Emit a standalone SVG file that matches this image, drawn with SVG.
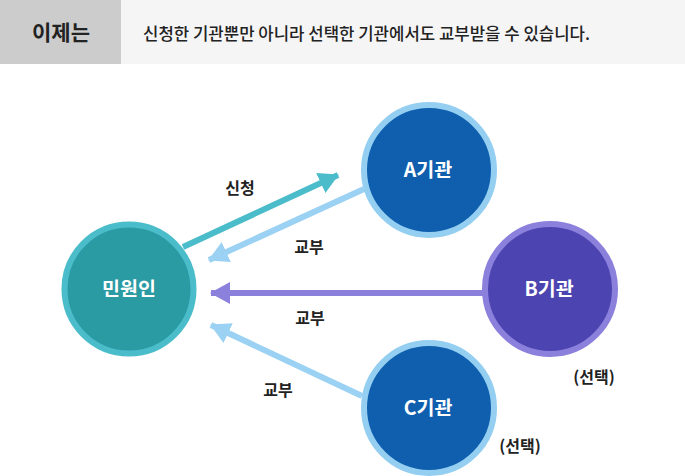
<svg xmlns="http://www.w3.org/2000/svg" width="685" height="476" viewBox="0 0 685 476">
<style>
text{font-family:"Noto Sans CJK KR","Noto Sans",sans-serif;}
.lbl{font-size:16px;font-weight:bold;fill:#222;text-anchor:middle;}
.node{font-size:19.5px;font-weight:bold;fill:#fff;text-anchor:middle;}
.line{stroke-width:6;fill:none;}
</style>
<defs>
<marker id="mTeal" markerUnits="userSpaceOnUse" viewBox="0 0 20 22" refX="19" refY="11" markerWidth="20" markerHeight="22" orient="auto"><path d="M0,0 L20,11 L0,22 Z" fill="#4bbcca"/></marker>
<marker id="mSky" markerUnits="userSpaceOnUse" viewBox="0 0 20 22" refX="19" refY="11" markerWidth="20" markerHeight="22" orient="auto"><path d="M0,0 L20,11 L0,22 Z" fill="#9bd1f3"/></marker>
<marker id="mPurple" markerUnits="userSpaceOnUse" viewBox="0 0 20 22" refX="19" refY="11" markerWidth="20" markerHeight="22" orient="auto"><path d="M0,0 L20,11 L0,22 Z" fill="#8b80dc"/></marker>
</defs>
<rect width="685" height="476" fill="#fff"/>
<g id="header">
<rect x="0" y="0" width="685" height="64" fill="#f5f5f5"/>
<rect x="0" y="0" width="121" height="64" fill="#cccccc"/>
<text x="61" y="40" style="font-size:21px;font-weight:bold;fill:#222;text-anchor:middle">이제는</text>
<text x="143" y="40" textLength="447" lengthAdjust="spacingAndGlyphs" style="font-size:16.5px;font-weight:500;fill:#222">신청한 기관뿐만 아니라 선택한 기관에서도 교부받을 수 있습니다.</text>
</g>
<g id="connectors">
<line class="line" x1="183" y1="247" x2="338" y2="175" stroke="#4bbcca" marker-end="url(#mTeal)"/>
<line class="line" x1="364" y1="189" x2="209" y2="260" stroke="#9bd1f3" marker-end="url(#mSky)"/>
<line class="line" x1="484" y1="293" x2="211" y2="293" stroke="#8b80dc" marker-end="url(#mPurple)"/>
<line class="line" x1="362" y1="396" x2="211" y2="325" stroke="#9bd1f3" marker-end="url(#mSky)"/>
<text class="lbl" x="240" y="194">신청</text>
<text class="lbl" x="309" y="253">교부</text>
<text class="lbl" x="310" y="324">교부</text>
<text class="lbl" x="278" y="396">교부</text>
</g>
<g id="minwon">
<circle cx="129" cy="289" r="64.5" fill="#2a9aa3" stroke="#4bbcca" stroke-width="6"/>
<text class="node" x="129" y="296">민원인</text>
</g>
<g id="nodeA">
<circle cx="429" cy="170" r="65" fill="#0f5fae" stroke="#94cff2" stroke-width="6"/>
<text class="node" x="428" y="177">A기관</text>
</g>
<g id="nodeB">
<circle cx="550" cy="289" r="65" fill="#4c44b0" stroke="#8b80dc" stroke-width="6"/>
<text class="node" x="549" y="296">B기관</text>
<text class="lbl" x="594" y="383">(선택)</text>
</g>
<g id="nodeC">
<circle cx="429" cy="408" r="65" fill="#0f5fae" stroke="#94cff2" stroke-width="6"/>
<text class="node" x="428" y="415">C기관</text>
<text class="lbl" x="520" y="452">(선택)</text>
</g>
</svg>
